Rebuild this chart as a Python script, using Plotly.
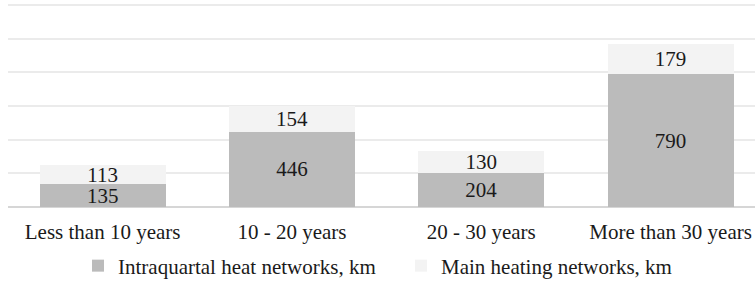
import plotly.graph_objects as go

categories = ["Less than 10 years", "10 - 20 years", "20 - 30 years", "More than 30 years"]
intraquartal = [135, 446, 204, 790]
main_heating = [113, 154, 130, 179]
series_names = ["Intraquartal heat networks, km", "Main heating networks, km"]
y_ticks = [0, 200, 400, 600, 800, 1000, 1200]

FONT = "Liberation Serif, Times New Roman, serif"
fs = 21

fig = go.Figure()
fig.add_trace(go.Bar(
    x=categories, y=intraquartal, name=series_names[0],
    marker=dict(color="#bbbbbb", line=dict(width=0)),
    text=[str(v) for v in intraquartal], textposition="inside",
    insidetextanchor="middle", constraintext="none",
    textfont=dict(family=FONT, size=fs, color="#1a1a1a"),
    width=0.665, hoverinfo="skip",
))
fig.add_trace(go.Bar(
    x=categories, y=main_heating, name=series_names[1],
    marker=dict(color="#f3f3f3", line=dict(width=0)),
    text=[str(v) for v in main_heating], textposition="inside",
    insidetextanchor="middle", constraintext="none",
    textfont=dict(family=FONT, size=fs, color="#1a1a1a"),
    width=0.665, hoverinfo="skip",
))

fig.update_layout(
    width=755, height=282,
    barmode="stack",
    margin=dict(l=8, r=0, t=3, b=75, autoexpand=False),
    paper_bgcolor="white", plot_bgcolor="white",
    font=dict(family=FONT, size=fs, color="#1a1a1a"),
    showlegend=True,
    legend=dict(
        orientation="h", xref="container", yref="container",
        x=78/755, xanchor="left", y=16/282, yanchor="middle",
        entrywidth=278, font=dict(family=FONT, size=fs, color="#1a1a1a"),
        traceorder="normal", bgcolor="rgba(0,0,0,0)",
    ),
    uniformtext=dict(mode=False),
)
fig.update_xaxes(
    range=[-0.5, 3.446], showgrid=False, showline=False, ticks="",
    ticklabelstandoff=10, automargin=False,
    tickfont=dict(family=FONT, size=fs, color="#1a1a1a"),
)
fig.update_yaxes(
    range=[0, 1212], tickvals=y_ticks, showticklabels=False,
    showgrid=True, gridcolor="#ebebeb", gridwidth=1.5,
    zeroline=True, zerolinecolor="#d6d6d6", zerolinewidth=1.5,
    showline=False, automargin=False,
)

fig.write_html(
    "out.html",
    config={"displayModeBar": False},
    post_script="document.body.style.margin='0';document.body.style.overflow='hidden';",
)
